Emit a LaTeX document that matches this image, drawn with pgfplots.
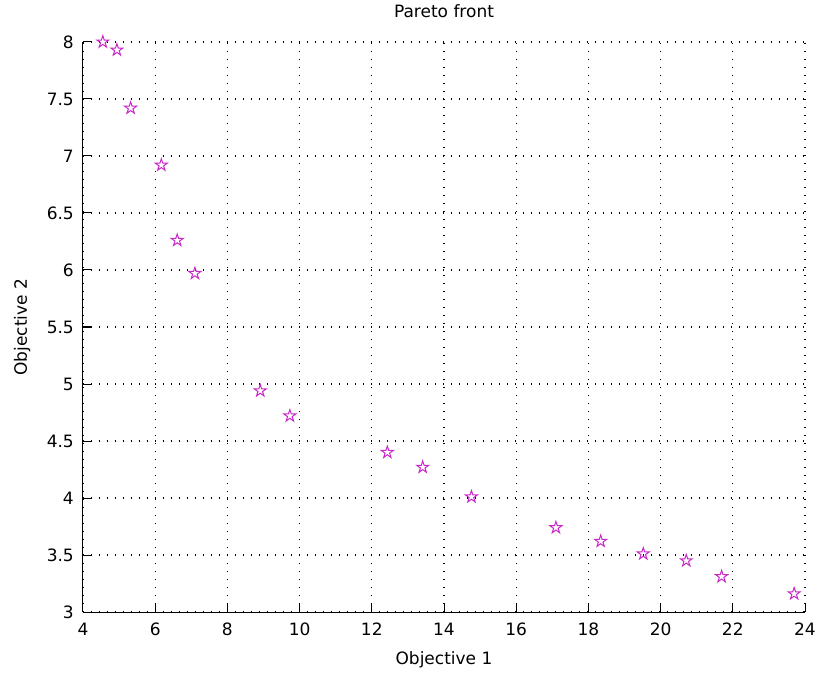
\documentclass[border=0pt]{standalone}
\usepackage{fontspec}
\setmainfont{DejaVu Sans}
\usepackage{pgfplots}
\pgfplotsset{compat=1.18}
\definecolor{mag}{RGB}{200,40,200}
\pgfdeclareplotmark{pentagram}{%
  \pgfpathmoveto{\pgfpointpolar{90}{\pgfplotmarksize}}%
  \pgfpathlineto{\pgfpointpolar{126}{0.382\pgfplotmarksize}}%
  \pgfpathlineto{\pgfpointpolar{162}{\pgfplotmarksize}}%
  \pgfpathlineto{\pgfpointpolar{198}{0.382\pgfplotmarksize}}%
  \pgfpathlineto{\pgfpointpolar{234}{\pgfplotmarksize}}%
  \pgfpathlineto{\pgfpointpolar{270}{0.382\pgfplotmarksize}}%
  \pgfpathlineto{\pgfpointpolar{306}{\pgfplotmarksize}}%
  \pgfpathlineto{\pgfpointpolar{342}{0.382\pgfplotmarksize}}%
  \pgfpathlineto{\pgfpointpolar{18}{\pgfplotmarksize}}%
  \pgfpathlineto{\pgfpointpolar{54}{0.382\pgfplotmarksize}}%
  \pgfpathclose\pgfusepathqstroke}
\begin{document}
\begin{tikzpicture}
\path[use as bounding box] (-83pt,-61pt) rectangle (734pt,612pt);
\begin{axis}[
  at={(0pt,0pt)}, anchor=south west,
  scale only axis, width=722pt, height=570pt,
  xmin=4, xmax=24, ymin=3, ymax=8,
  xtick={4,6,...,24}, ytick={3,3.5,...,8},
  axis x line*=bottom, axis y line*=left,
  axis line style={-, line width=1pt, black},
  tick style={line width=1pt, black},
  major tick length=8pt, tick align=inside,
  grid=major,
  major grid style={black, line width=1.1pt, dash pattern=on 1.1pt off 6.9pt},
  /pgf/number format/assume math mode=true,
  font=\fontsize{17}{20}\selectfont,
  ticklabel style={font=\fontsize{17}{20}\selectfont},
  xticklabel style={anchor=north, inner sep=0pt, yshift=-11pt},
  yticklabel style={anchor=east, inner sep=0pt, xshift=-9pt},
  title={Pareto front},
  title style={at={(axis description cs:0.5,1)}, anchor=base, yshift=18pt, inner sep=0pt},
  xlabel={Objective 1},
  xlabel style={at={(axis description cs:0.5,0)}, anchor=base, yshift=-52pt, inner sep=0pt},
  ylabel={Objective 2},
  ylabel style={at={(axis description cs:0,0.5)}, anchor=base, yshift=56pt, inner sep=0pt},
  clip=false,
]
\addplot[only marks, mark=pentagram, mark size=6.3pt, mag, line width=1pt] coordinates {
(4.55,8.00) (4.94,7.93) (5.32,7.42) (6.17,6.92) (6.61,6.26) (7.10,5.97)
(8.91,4.94) (9.73,4.72) (12.43,4.40) (13.41,4.27) (14.76,4.01)
(17.10,3.74) (18.34,3.62) (19.52,3.51) (20.71,3.45) (21.69,3.31) (23.70,3.16)
};
\end{axis}
\end{tikzpicture}
\end{document}
